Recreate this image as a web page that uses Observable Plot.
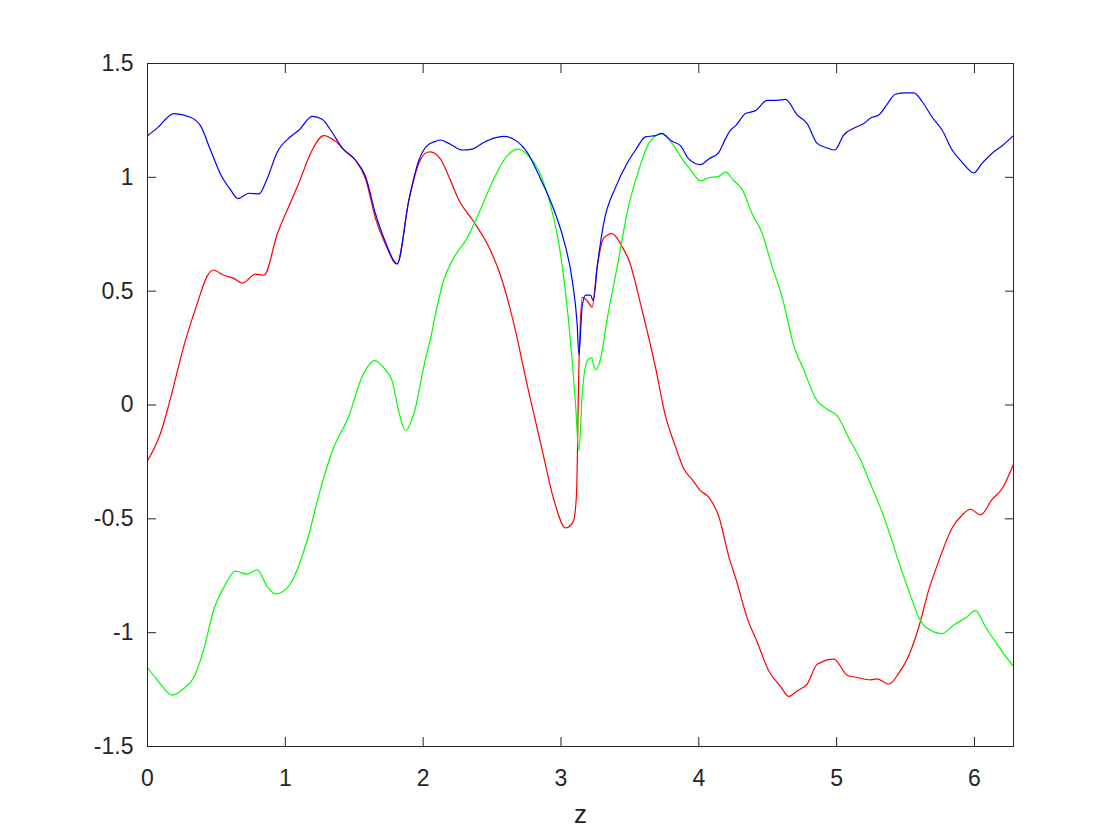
<!DOCTYPE html>
<html>
<head>
<meta charset="utf-8">
<script src="https://cdn.jsdelivr.net/npm/d3@7"></script>
<script src="https://cdn.jsdelivr.net/npm/@observablehq/plot@0.6"></script>
<style>
  html, body { margin: 0; padding: 0; background: #ffffff; }
  #chart { width: 1120px; height: 840px; }
</style>
</head>
<body>
<div id="chart"></div>
<script>
// ---- data ----
const xTicks = [0, 1, 2, 3, 4, 5, 6];
const xTickLabels = ["0", "1", "2", "3", "4", "5", "6"];
const yTicks = [-1.5, -1, -0.5, 0, 0.5, 1, 1.5];
const yTickLabels = ["-1.5", "-1", "-0.5", "0", "0.5", "1", "1.5"];
const xLabel = "z";

const redZ = [0, 0.094, 0.167, 0.264, 0.36, 0.433, 0.476, 0.554, 0.626, 0.687, 0.784, 0.845, 0.941, 1.037, 1.098, 1.195, 1.279, 1.364, 1.437, 1.509, 1.582, 1.654, 1.727, 1.811, 1.896, 1.969, 2.029, 2.053, 2.126, 2.186, 2.259, 2.367, 2.476, 2.561, 2.658, 2.755, 2.851, 2.948, 3.033, 3.089, 3.112, 3.13, 3.154, 3.19, 3.226, 3.263, 3.311, 3.371, 3.444, 3.492, 3.589, 3.686, 3.758, 3.831, 3.891, 3.952, 4.012, 4.072, 4.145, 4.218, 4.278, 4.351, 4.424, 4.508, 4.593, 4.653, 4.714, 4.786, 4.859, 4.98, 5.077, 5.149, 5.246, 5.294, 5.379, 5.451, 5.524, 5.596, 5.669, 5.741, 5.838, 5.911, 5.971, 6.044, 6.128, 6.201, 6.283];
const redV = [-0.245, -0.125, 0.029, 0.26, 0.444, 0.566, 0.593, 0.57, 0.556, 0.535, 0.575, 0.57, 0.75, 0.888, 0.975, 1.12, 1.183, 1.158, 1.114, 1.075, 0.994, 0.82, 0.705, 0.62, 0.898, 1.062, 1.11, 1.112, 1.08, 1.004, 0.9, 0.805, 0.695, 0.57, 0.357, 0.087, -0.164, -0.415, -0.54, -0.512, -0.4, 0.16, 0.473, 0.458, 0.43, 0.608, 0.734, 0.753, 0.695, 0.637, 0.415, 0.164, -0.048, -0.183, -0.28, -0.328, -0.376, -0.405, -0.49, -0.666, -0.782, -0.936, -1.042, -1.168, -1.236, -1.28, -1.255, -1.226, -1.139, -1.116, -1.187, -1.197, -1.207, -1.203, -1.226, -1.178, -1.1, -0.975, -0.811, -0.685, -0.54, -0.483, -0.458, -0.483, -0.415, -0.367, -0.26];

const greenZ = [0, 0.07, 0.179, 0.264, 0.336, 0.409, 0.481, 0.554, 0.638, 0.723, 0.796, 0.868, 0.929, 0.98, 1.037, 1.098, 1.17, 1.243, 1.34, 1.461, 1.558, 1.649, 1.727, 1.775, 1.823, 1.872, 1.932, 2.017, 2.053, 2.09, 2.15, 2.223, 2.32, 2.416, 2.513, 2.61, 2.687, 2.755, 2.851, 2.924, 2.996, 3.057, 3.105, 3.13, 3.154, 3.19, 3.221, 3.25, 3.287, 3.335, 3.408, 3.492, 3.565, 3.637, 3.729, 3.807, 3.879, 3.94, 4.012, 4.072, 4.145, 4.194, 4.254, 4.315, 4.387, 4.46, 4.532, 4.605, 4.689, 4.762, 4.847, 4.931, 5.004, 5.088, 5.173, 5.246, 5.318, 5.391, 5.451, 5.524, 5.596, 5.645, 5.766, 5.85, 5.935, 6.007, 6.08, 6.177, 6.283];
const greenV = [-1.154, -1.207, -1.274, -1.245, -1.197, -1.071, -0.898, -0.801, -0.73, -0.743, -0.724, -0.797, -0.83, -0.82, -0.785, -0.705, -0.57, -0.396, -0.203, -0.048, 0.125, 0.195, 0.154, 0.106, -0.029, -0.112, -0.039, 0.203, 0.29, 0.4, 0.55, 0.647, 0.734, 0.859, 0.994, 1.095, 1.124, 1.1, 1.014, 0.878, 0.666, 0.357, 0.01, -0.203, 0.048, 0.193, 0.207, 0.154, 0.203, 0.377, 0.608, 0.878, 1.033, 1.149, 1.191, 1.149, 1.081, 1.033, 0.985, 0.998, 1.004, 1.023, 0.985, 0.946, 0.84, 0.753, 0.608, 0.473, 0.261, 0.154, 0.029, -0.019, -0.048, -0.145, -0.241, -0.347, -0.452, -0.577, -0.69, -0.817, -0.933, -0.975, -1.004, -0.966, -0.936, -0.903, -0.975, -1.062, -1.149];

const blueZ = [0, 0.07, 0.191, 0.312, 0.385, 0.457, 0.53, 0.602, 0.655, 0.735, 0.808, 0.868, 0.941, 1.037, 1.098, 1.195, 1.267, 1.34, 1.412, 1.509, 1.582, 1.654, 1.727, 1.811, 1.896, 1.969, 2.029, 2.09, 2.126, 2.198, 2.283, 2.356, 2.44, 2.513, 2.585, 2.682, 2.755, 2.851, 2.948, 3.02, 3.081, 3.117, 3.13, 3.154, 3.178, 3.214, 3.234, 3.263, 3.311, 3.396, 3.48, 3.541, 3.613, 3.686, 3.729, 3.807, 3.867, 3.927, 4.012, 4.072, 4.145, 4.194, 4.23, 4.266, 4.339, 4.411, 4.496, 4.569, 4.629, 4.714, 4.786, 4.859, 4.931, 4.987, 5.052, 5.124, 5.197, 5.246, 5.306, 5.367, 5.427, 5.5, 5.56, 5.621, 5.693, 5.766, 5.838, 5.911, 5.995, 6.056, 6.128, 6.201, 6.283];
const blueV = [1.183, 1.216, 1.28, 1.264, 1.226, 1.12, 1.014, 0.946, 0.907, 0.93, 0.927, 0.994, 1.11, 1.178, 1.207, 1.268, 1.255, 1.197, 1.129, 1.075, 1.004, 0.84, 0.715, 0.62, 0.9, 1.075, 1.139, 1.158, 1.164, 1.145, 1.12, 1.124, 1.153, 1.172, 1.18, 1.158, 1.11, 0.994, 0.859, 0.724, 0.55, 0.357, 0.222, 0.434, 0.483, 0.483, 0.458, 0.608, 0.801, 0.956, 1.062, 1.12, 1.178, 1.183, 1.193, 1.158, 1.139, 1.081, 1.056, 1.081, 1.11, 1.17, 1.207, 1.226, 1.28, 1.293, 1.338, 1.338, 1.342, 1.274, 1.236, 1.149, 1.129, 1.12, 1.187, 1.216, 1.236, 1.261, 1.274, 1.322, 1.365, 1.371, 1.371, 1.332, 1.264, 1.207, 1.12, 1.066, 1.019, 1.062, 1.106, 1.139, 1.183];

const seriesNames = ["series 1", "series 2", "series 3"];
const seriesColors = ["#ff0000", "#00ff00", "#0000ff"];

// ---- build table ----
const rows = [];
[[redZ, redV], [greenZ, greenV], [blueZ, blueV]].forEach(([zs, vs], k) => {
  zs.forEach((z, i) => rows.push({series: seriesNames[k], z, v: vs[i]}));
});

const axisColor = "#262626";
const fontFamily = "'Liberation Sans', Arial, Helvetica, sans-serif";
const xFmt = d => xTickLabels[xTicks.indexOf(d)];
const yFmt = d => yTickLabels[yTicks.indexOf(d)];

const chart = Plot.plot({
  width: 1120,
  height: 840,
  marginLeft: 147,
  marginRight: 107,
  marginTop: 63,
  marginBottom: 94,
  style: {fontFamily, fontSize: "23px", color: axisColor, background: "#ffffff"},
  x: {domain: [0, 6.2832], label: null},
  y: {domain: [-1.5, 1.5], label: null},
  color: {type: "ordinal", domain: seriesNames, range: seriesColors},
  marks: [
    Plot.lineY(rows, {x: "z", y: "v", z: "series", stroke: "series", strokeWidth: 1.2, curve: "monotone-x"}),
    Plot.frame({stroke: axisColor, strokeWidth: 1}),
    Plot.axisX(xTicks, {anchor: "bottom", tickSize: -9, tickPadding: 32, tickFormat: xFmt, fontSize: 23, label: null}),
    Plot.axisX(xTicks, {anchor: "top", tickSize: -9, tickFormat: () => "", label: null}),
    Plot.axisY(yTicks, {anchor: "left", tickSize: -9, tickPadding: 23, tickFormat: yFmt, fontSize: 23, label: null}),
    Plot.axisY(yTicks, {anchor: "right", tickSize: -9, tickFormat: () => "", label: null}),
    Plot.text([xLabel], {frameAnchor: "bottom", text: d => d, dy: 58, lineAnchor: "top", fontSize: 26, fill: axisColor})
  ]
});

document.getElementById("chart").appendChild(chart);
</script>
</body>
</html>
